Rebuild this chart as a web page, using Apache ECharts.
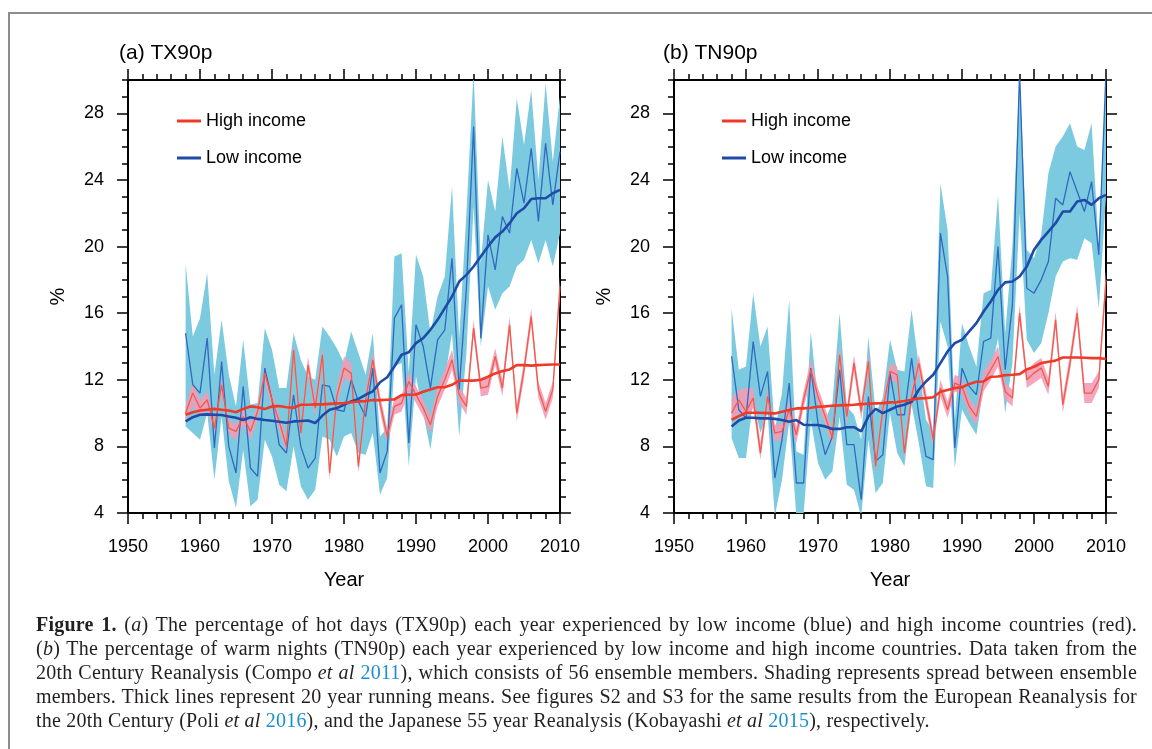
<!DOCTYPE html>
<html>
<head>
<meta charset="utf-8">
<script src="https://cdn.jsdelivr.net/npm/echarts@6/dist/echarts.min.js"></script>
<style>
html,body{margin:0;padding:0;background:#fff;}
#wrap{position:relative;width:1152px;height:749px;overflow:hidden;background:#fff;}
#frame{position:absolute;left:8px;top:12px;width:1200px;height:800px;border-top:2px solid #8d8d8d;border-left:2px solid #8d8d8d;pointer-events:none;}
#chart{position:absolute;left:0;top:0;width:1152px;height:600px;}
#caption{position:absolute;left:36px;top:612px;width:1101px;font-family:'Liberation Serif','Times New Roman',serif;font-size:20px;letter-spacing:0.22px;line-height:24px;color:#231f20;}
#caption .l{white-space:nowrap;text-align:justify;text-align-last:justify;}
#caption .last{white-space:nowrap;text-align:left;}
#caption a{color:#1a8fd0;text-decoration:none;}
</style>
</head>
<body>
<div id="wrap">
  <div id="chart"></div>
  <div id="frame"></div>
  <div id="caption">
    <div class="l"><b>Figure 1.</b> (<i>a</i>) The percentage of hot days (TX90p) each year experienced by low income (blue) and high income countries (red).</div>
    <div class="l">(<i>b</i>) The percentage of warm nights (TN90p) each year experienced by low income and high income countries. Data taken from the</div>
    <div class="l">20th Century Reanalysis (Compo <i>et al</i> <a>2011</a>), which consists of 56 ensemble members. Shading represents spread between ensemble</div>
    <div class="l">members. Thick lines represent 20 year running means. See figures S2 and S3 for the same results from the European Reanalysis for</div>
    <div class="last">the 20th Century (Poli <i>et al</i> <a>2016</a>), and the Japanese 55 year Reanalysis (Kobayashi <i>et al</i> <a>2015</a>), respectively.</div>
  </div>
</div>
<script>
// ---------------- DATA ----------------
const years = [1958,1959,1960,1961,1962,1963,1964,1965,1966,1967,1968,1969,1970,1971,1972,1973,1974,1975,1976,1977,1978,1979,1980,1981,1982,1983,1984,1985,1986,1987,1988,1989,1990,1991,1992,1993,1994,1995,1996,1997,1998,1999,2000,2001,2002,2003,2004,2005,2006,2007,2008,2009,2010];
const xTickYears = [1950,1960,1970,1980,1990,2000,2010];
const yTickLabels = [4,8,12,16,20,24,28];

// (a) TX90p
const txLow = [14.8,11.7,11.2,14.5,7.9,13.1,8.0,6.4,11.6,6.7,6.2,12.7,10.8,8.1,7.6,11.1,8.0,6.7,7.3,11.7,11.6,10.2,10.1,12.0,10.7,9.8,12.7,6.4,7.7,15.7,16.5,8.2,15.3,14.0,11.5,14.4,15.0,19.3,11.4,17.5,27.2,14.5,20.7,18.6,21.8,20.8,24.7,22.6,25.9,21.5,26.2,22.5,25.7];
const txLowMean = [9.5,9.75,9.9,9.92,9.9,9.88,9.8,9.72,9.58,9.75,9.65,9.58,9.54,9.48,9.42,9.5,9.52,9.55,9.4,9.85,10.2,10.3,10.5,10.7,10.85,11.1,11.3,11.85,12.15,12.8,13.5,13.65,14.2,14.5,15.0,15.6,16.3,17.0,17.9,18.3,18.8,19.4,20.0,20.55,20.9,21.4,22.0,22.3,22.85,22.9,22.9,23.2,23.4];
const txLowLo = [9.2,8.8,8.4,10.0,6.0,9.8,5.9,4.3,7.8,4.4,4.8,8.4,7.4,5.7,5.3,8.0,5.6,4.8,5.4,8.6,8.4,7.4,8.6,8.8,7.6,7.5,8.8,5.1,6.1,12.8,13.0,6.8,12.2,10.0,7.8,11.0,12.0,14.8,8.6,13.6,22.4,14.0,17.6,16.2,17.2,17.6,18.8,19.2,20.4,19.0,20.4,18.8,20.8];
const txLowHi = [19.0,14.6,15.7,18.4,12.3,15.6,12.3,10.4,14.4,10.5,10.6,15.1,13.8,11.5,11.5,14.8,13.2,12.2,12.0,15.2,14.6,13.9,13.0,14.9,13.6,12.3,14.8,8.6,9.1,19.4,19.6,12.4,19.5,18.2,14.8,17.0,18.2,23.6,14.5,22.0,30.5,19.0,24.0,22.1,26.6,23.4,28.9,26.1,29.4,24.0,29.8,25.1,29.0];
const txHigh = [10.0,11.2,10.3,10.8,9.1,11.7,9.1,8.9,9.8,8.9,10.1,12.4,10.8,9.5,8.0,13.8,8.8,12.9,10.3,13.5,6.4,11.0,12.7,12.4,6.8,10.8,13.2,10.6,8.6,10.4,10.6,11.9,11.1,10.3,9.3,11.0,12.0,13.2,11.1,10.4,15.1,11.5,11.6,13.4,11.5,15.3,10.0,12.6,15.8,11.4,10.1,11.4,17.6];
const txHighMean = [9.9,10.05,10.15,10.2,10.25,10.2,10.15,10.05,10.25,10.4,10.35,10.25,10.4,10.42,10.35,10.32,10.5,10.5,10.52,10.52,10.55,10.58,10.6,10.65,10.7,10.72,10.78,10.78,10.8,10.82,11.08,11.1,11.12,11.28,11.42,11.55,11.55,11.7,11.95,11.95,11.95,12.0,12.18,12.38,12.52,12.62,12.88,12.88,12.85,12.88,12.9,12.92,12.92];
const txHighLo = [9.5,10.4,9.8,10.2,8.7,11.2,8.7,8.4,9.3,8.4,9.6,11.9,10.3,9.0,7.6,13.3,8.4,12.4,9.8,13.0,6.0,10.5,12.1,11.8,6.4,10.3,12.7,10.1,8.1,9.9,10.1,11.3,10.6,9.8,8.8,10.4,11.4,12.6,10.6,9.9,14.6,11.0,11.1,12.9,11.0,14.8,9.5,12.1,15.3,10.9,9.6,10.9,17.0];
const txHighHi = [10.4,11.9,10.8,11.3,9.6,12.1,9.6,9.3,10.3,9.4,10.5,12.9,11.2,9.9,8.5,14.2,9.3,13.4,10.8,14.0,6.9,11.5,13.4,13.0,7.3,11.3,13.7,11.1,9.1,10.9,11.1,12.5,11.6,10.8,9.8,11.6,12.6,13.8,11.6,10.9,15.6,12.0,12.1,13.9,12.0,15.8,10.5,13.1,16.3,11.9,10.6,11.9,18.2];

// (b) TN90p
const tnLow = [13.4,10.2,9.7,14.3,11.0,12.5,6.1,8.4,11.8,5.8,5.8,12.7,9.4,7.5,8.6,12.6,8.1,8.1,4.8,11.0,7.1,7.5,12.4,9.9,9.9,13.3,9.9,7.4,7.2,20.8,18.2,7.9,12.7,11.6,11.1,14.3,14.5,20.0,12.6,16.5,30.5,17.5,17.2,18.0,19.1,22.9,22.5,24.5,23.3,22.1,23.9,19.5,30.5];
const tnLowMean = [9.2,9.55,9.72,9.72,9.68,9.68,9.65,9.58,9.48,9.58,9.3,9.28,9.28,9.2,9.05,9.05,9.15,9.15,8.9,9.8,10.25,10.0,10.2,10.4,10.5,10.68,11.4,11.9,12.3,13.0,13.7,14.2,14.4,14.9,15.4,16.1,16.7,17.4,17.85,17.9,18.2,18.8,19.8,20.4,20.9,21.4,22.1,22.1,22.7,22.8,22.5,22.9,23.1];
const tnLowLo = [8.5,7.3,7.3,10.8,8.8,10.0,3.8,6.0,9.5,3.8,3.9,9.6,7.0,6.0,6.5,9.8,5.7,5.4,3.8,8.4,5.2,5.8,10.0,7.6,6.8,10.5,8.2,5.6,5.5,15.5,14.0,6.7,10.2,9.4,8.7,11.6,12.4,14.5,10.0,13.0,22.0,14.4,13.6,14.2,16.0,18.2,19.1,19.3,19.2,20.5,20.2,16.3,23.0];
const tnLowHi = [16.3,12.6,12.8,17.2,14.0,15.2,9.0,11.2,16.8,7.7,7.5,14.9,10.7,9.6,10.6,16.0,10.4,9.9,8.4,14.6,10.0,10.9,14.4,12.6,12.5,16.2,12.8,9.6,8.9,23.8,21.0,9.6,15.4,14.0,12.8,17.2,17.4,23.1,14.8,20.0,30.5,19.8,19.3,20.7,24.4,26.0,26.6,27.4,26.0,25.8,27.4,20.0,30.5];
const tnHigh = [10.0,10.8,10.1,10.9,7.6,11.0,8.8,8.9,10.2,8.7,10.8,12.6,11.0,9.8,8.5,13.5,9.8,13.0,10.1,13.1,6.8,10.2,12.5,12.3,7.6,11.0,13.0,10.8,8.4,11.5,10.2,11.8,11.6,10.4,9.8,11.9,12.6,13.4,11.3,10.9,16.0,12.0,12.4,12.7,11.6,15.6,10.5,13.0,16.0,11.2,11.2,12.0,18.0];
const tnHighMean = [9.6,9.82,10.02,10.02,10.02,10.0,9.98,10.08,10.18,10.28,10.28,10.32,10.38,10.4,10.44,10.46,10.48,10.5,10.54,10.56,10.58,10.6,10.64,10.66,10.72,10.8,10.88,10.9,10.95,11.28,11.38,11.5,11.55,11.75,11.88,11.9,12.18,12.2,12.28,12.3,12.34,12.62,12.78,13.0,13.08,13.15,13.34,13.34,13.34,13.32,13.3,13.3,13.25];
const tnHighLo = [9.5,10.0,9.6,10.3,7.2,10.5,8.3,8.4,9.7,8.2,10.3,12.0,10.5,9.3,8.0,13.0,9.3,12.5,9.6,12.6,6.4,9.7,12.0,11.8,7.2,10.5,12.5,10.3,7.9,11.0,9.7,11.3,11.1,9.9,9.3,11.3,12.0,12.8,10.8,10.4,15.5,11.5,11.8,12.1,11.1,15.1,10.0,12.5,15.5,10.6,10.6,11.5,17.4];
const tnHighHi = [10.9,11.4,11.5,11.5,8.2,11.5,9.3,9.4,10.7,9.2,11.3,13.2,11.5,10.3,9.0,14.1,10.3,13.5,10.6,13.7,7.3,10.7,13.0,12.8,8.1,11.5,13.5,11.3,8.9,12.0,10.7,12.3,12.1,10.9,10.3,12.5,13.2,14.0,11.8,11.4,16.5,12.5,13.0,13.3,12.1,16.1,11.0,13.5,16.5,11.8,11.8,12.5,18.6];

// ---------------- STYLE ----------------
const FONT = "'Liberation Sans', Arial, Helvetica, sans-serif";
const C = {
  band: '#7ccae0', pink: '#f29cb6',
  blueThin: '#2f69c0', blueThick: '#1f4ba8',
  redThin: '#f25a49', redThick: '#ee3a28'
};

const panels = [
  {title: '(a) TX90p', left: 128, titleLeft: 119, legendLeft: 177,
   low: txLow, lowMean: txLowMean, lowLo: txLowLo, lowHi: txLowHi,
   high: txHigh, highMean: txHighMean, highLo: txHighLo, highHi: txHighHi},
  {title: '(b) TN90p', left: 674, titleLeft: 663, legendLeft: 722,
   low: tnLow, lowMean: tnLowMean, lowLo: tnLowLo, lowHi: tnLowHi,
   high: tnHigh, highMean: tnHighMean, highLo: tnHighLo, highHi: tnHighHi}
];

const GRID_TOP = 80, GRID_H = 433, GRID_W = 432;
const pairs = arr => years.map((y, i) => [y, arr[i]]);

const grids = [], xAxes = [], yAxes = [], series = [], titles = [], legends = [];
const tickStyle = {color: '#000', width: 1.5};
const lineStyle = {color: '#000', width: 2};

// spread band drawn as one polygon through the axis scales
function bandSeries(g, lo, hi, color, opacity, z) {
  return {
    type: 'custom', xAxisIndex: g * 4, yAxisIndex: g * 4, silent: true, z: z, clip: true,
    animation: false,
    data: years.map((y, i) => [y, lo[i], hi[i]]),
    encode: {x: 0, y: [1, 2]},
    renderItem: function (params, api) {
      if (params.dataIndex !== 0) return null;
      const pts = [];
      for (let k = 0; k < years.length; k++) pts.push(api.coord([years[k], hi[k]]));
      for (let k = years.length - 1; k >= 0; k--) pts.push(api.coord([years[k], lo[k]]));
      const cs = params.coordSys;
      return {
        type: 'polygon', shape: {points: pts},
        style: {fill: color, opacity: opacity},
        clipPath: {type: 'rect', shape: {x: cs.x, y: cs.y, width: cs.width, height: cs.height}}
      };
    }
  };
}

panels.forEach((p, g) => {
  grids.push({left: p.left, top: GRID_TOP, width: GRID_W, height: GRID_H, show: false});
  const xb = {gridIndex: g, type: 'value', min: 1950, max: 2010, splitLine: {show: false},
              axisLine: {show: true, onZero: false, lineStyle}};
  xAxes.push(
    Object.assign({}, xb, {position: 'bottom', interval: 10,
      axisTick: {show: true, length: 11, lineStyle: tickStyle},
      axisLabel: {show: true, fontSize: 18, color: '#000', fontFamily: FONT, margin: 25,
                  customValues: xTickYears, showMinLabel: true, showMaxLabel: true,
                  formatter: v => String(v)},
      name: 'Year', nameLocation: 'middle', nameGap: 57,
      nameTextStyle: {fontSize: 20, color: '#000', fontFamily: FONT}}),
    Object.assign({}, xb, {position: 'bottom', interval: 2,
      axisTick: {show: true, length: 6, lineStyle: tickStyle}, axisLabel: {show: false}}),
    Object.assign({}, xb, {position: 'top', interval: 10,
      axisTick: {show: true, length: 11, lineStyle: tickStyle}, axisLabel: {show: false}}),
    Object.assign({}, xb, {position: 'top', interval: 2,
      axisTick: {show: true, length: 6, lineStyle: tickStyle}, axisLabel: {show: false}})
  );
  const yb = {gridIndex: g, type: 'value', min: 4, max: 30, splitLine: {show: false},
              axisLine: {show: true, onZero: false, lineStyle}};
  yAxes.push(
    Object.assign({}, yb, {position: 'left', interval: 4,
      axisTick: {show: true, length: 11, lineStyle: tickStyle, customValues: yTickLabels},
      axisLabel: {show: true, fontSize: 18, color: '#000', fontFamily: FONT, margin: 24,
                  customValues: yTickLabels, formatter: v => String(v)},
      name: '%', nameLocation: 'middle', nameGap: 60,
      nameTextStyle: {fontSize: 20, color: '#000', fontFamily: FONT}}),
    Object.assign({}, yb, {position: 'left', interval: 1,
      axisTick: {show: true, length: 6, lineStyle: tickStyle}, axisLabel: {show: false}}),
    Object.assign({}, yb, {position: 'right', interval: 4,
      axisTick: {show: true, length: 11, lineStyle: tickStyle, customValues: yTickLabels},
      axisLabel: {show: false}}),
    Object.assign({}, yb, {position: 'right', interval: 1,
      axisTick: {show: true, length: 6, lineStyle: tickStyle}, axisLabel: {show: false}})
  );
  const ax = {xAxisIndex: g * 4, yAxisIndex: g * 4, symbol: 'none', showSymbol: false, silent: true, animation: false};
  series.push(bandSeries(g, p.lowLo, p.lowHi, C.band, 1, 1));
  series.push(bandSeries(g, p.highLo, p.highHi, C.pink, 0.9, 2));
  // annual values
  series.push(Object.assign({}, ax, {type: 'line', name: 'lowAnnual' + g, data: pairs(p.low),
    lineStyle: {color: C.blueThin, width: 1.3}, z: 3}));
  series.push(Object.assign({}, ax, {type: 'line', name: 'highAnnual' + g, data: pairs(p.high),
    lineStyle: {color: C.redThin, width: 1.3}, z: 3}));
  // 20-year running means
  series.push(Object.assign({}, ax, {type: 'line', name: 'Low income', data: pairs(p.lowMean),
    itemStyle: {color: C.blueThick}, lineStyle: {color: C.blueThick, width: 2.6}, z: 4}));
  series.push(Object.assign({}, ax, {type: 'line', name: 'High income', data: pairs(p.highMean),
    itemStyle: {color: C.redThick}, lineStyle: {color: C.redThick, width: 2.6}, z: 4}));

  titles.push({text: p.title, left: p.titleLeft, top: 43, padding: 0,
    textStyle: {fontSize: 21, fontWeight: 'normal', color: '#000', fontFamily: FONT}});
  legends.push({data: ['High income', 'Low income'], left: p.legendLeft, top: 112, orient: 'vertical',
    padding: 0, icon: 'rect', itemWidth: 24, itemHeight: 3, itemGap: 19, selectedMode: false,
    textStyle: {fontSize: 18, color: '#000', fontFamily: FONT, lineHeight: 18}});
});

const chart = echarts.init(document.getElementById('chart'), null, {renderer: 'canvas'});
chart.setOption({
  backgroundColor: 'transparent',
  animation: false,
  title: titles,
  legend: legends,
  grid: grids,
  xAxis: xAxes,
  yAxis: yAxes,
  series: series
});
</script>
</body>
</html>
